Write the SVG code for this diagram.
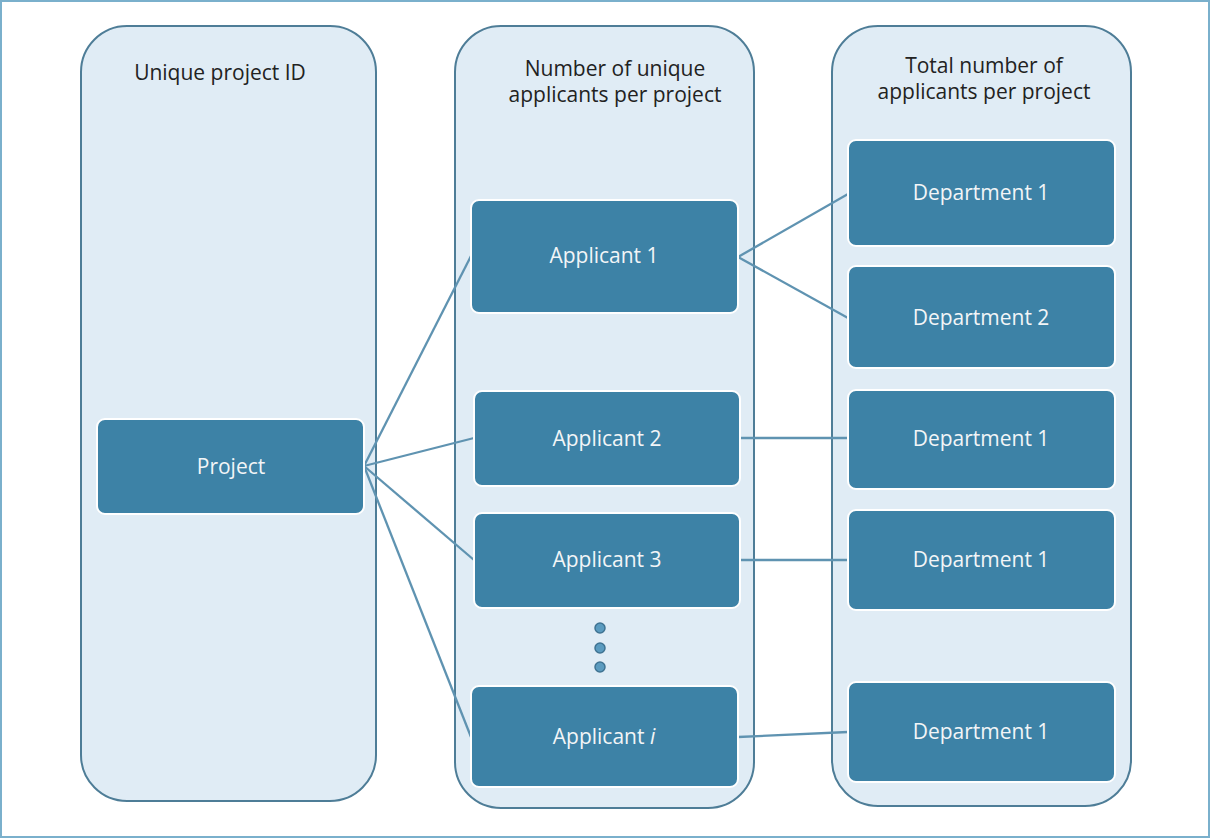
<svg xmlns="http://www.w3.org/2000/svg" width="1211" height="839" viewBox="0 0 1211 839">
<style>
.col{fill:#e0ecf5;stroke:#4e7d97;stroke-width:2}
.node{fill:#3d82a6;stroke:#ffffff;stroke-width:2}
.hd{font-family:"Open Sans","Liberation Sans",sans-serif;font-size:21px;fill:#222222;text-anchor:middle}
.lb{font-family:"Open Sans","Liberation Sans",sans-serif;font-size:21px;fill:#f2f5f7;text-anchor:middle}
.cn{stroke:#5f93b1;stroke-width:2.3;fill:none}
.dot{fill:#5b9bbf;stroke:#3f7392;stroke-width:1.5}
</style>
<rect x="1" y="1" width="1208" height="836" fill="#ffffff" stroke="#7ab0cc" stroke-width="2"/>
<g id="col1"><rect class="col" x="81" y="26" width="295" height="775" rx="46"/><text class="hd" x="220" y="80">Unique project ID</text></g>
<g id="col2"><rect class="col" x="455" y="26" width="299" height="782" rx="46"/><text class="hd" x="615" y="76">Number of unique</text><text class="hd" x="615" y="102">applicants per project</text></g>
<g id="col3"><rect class="col" x="832" y="26" width="299" height="780" rx="46"/><text class="hd" x="984" y="73">Total number of</text><text class="hd" x="984" y="99">applicants per project</text></g>
<g id="connectors">
<line class="cn" x1="364" y1="466" x2="471" y2="256"/>
<line class="cn" x1="364" y1="466" x2="474" y2="438"/>
<line class="cn" x1="364" y1="466" x2="474" y2="560"/>
<line class="cn" x1="364" y1="466" x2="471" y2="737"/>
<line class="cn" x1="738" y1="257" x2="848" y2="194"/>
<line class="cn" x1="738" y1="257" x2="848" y2="318"/>
<line class="cn" x1="740" y1="438" x2="848" y2="438"/>
<line class="cn" x1="740" y1="560" x2="848" y2="560"/>
<line class="cn" x1="738" y1="737" x2="848" y2="732"/>
</g>
<g id="project"><rect class="node" x="97" y="419" width="267" height="95" rx="8"/><text class="lb" x="231" y="474">Project</text></g>
<g id="applicant1"><rect class="node" x="471" y="200" width="267" height="113" rx="8"/><text class="lb" x="604" y="263">Applicant 1</text></g>
<g id="applicant2"><rect class="node" x="474" y="391" width="266" height="95" rx="8"/><text class="lb" x="607" y="446">Applicant 2</text></g>
<g id="applicant3"><rect class="node" x="474" y="513" width="266" height="95" rx="8"/><text class="lb" x="607" y="567">Applicant 3</text></g>
<g id="dots"><circle class="dot" cx="600" cy="628" r="5"/><circle class="dot" cx="600" cy="648" r="5"/><circle class="dot" cx="600" cy="667" r="5"/></g>
<g id="applicanti"><rect class="node" x="471" y="686" width="267" height="101" rx="8"/><text class="lb" x="604" y="744">Applicant <tspan font-style="italic">i</tspan></text></g>
<g id="dept1a"><rect class="node" x="848" y="140" width="267" height="106" rx="8"/><text class="lb" x="981" y="200">Department 1</text></g>
<g id="dept2"><rect class="node" x="848" y="266" width="267" height="102" rx="8"/><text class="lb" x="981" y="325">Department 2</text></g>
<g id="dept1b"><rect class="node" x="848" y="390" width="267" height="99" rx="8"/><text class="lb" x="981" y="446">Department 1</text></g>
<g id="dept1c"><rect class="node" x="848" y="510" width="267" height="100" rx="8"/><text class="lb" x="981" y="567">Department 1</text></g>
<g id="dept1d"><rect class="node" x="848" y="682" width="267" height="100" rx="8"/><text class="lb" x="981" y="739">Department 1</text></g>
</svg>
